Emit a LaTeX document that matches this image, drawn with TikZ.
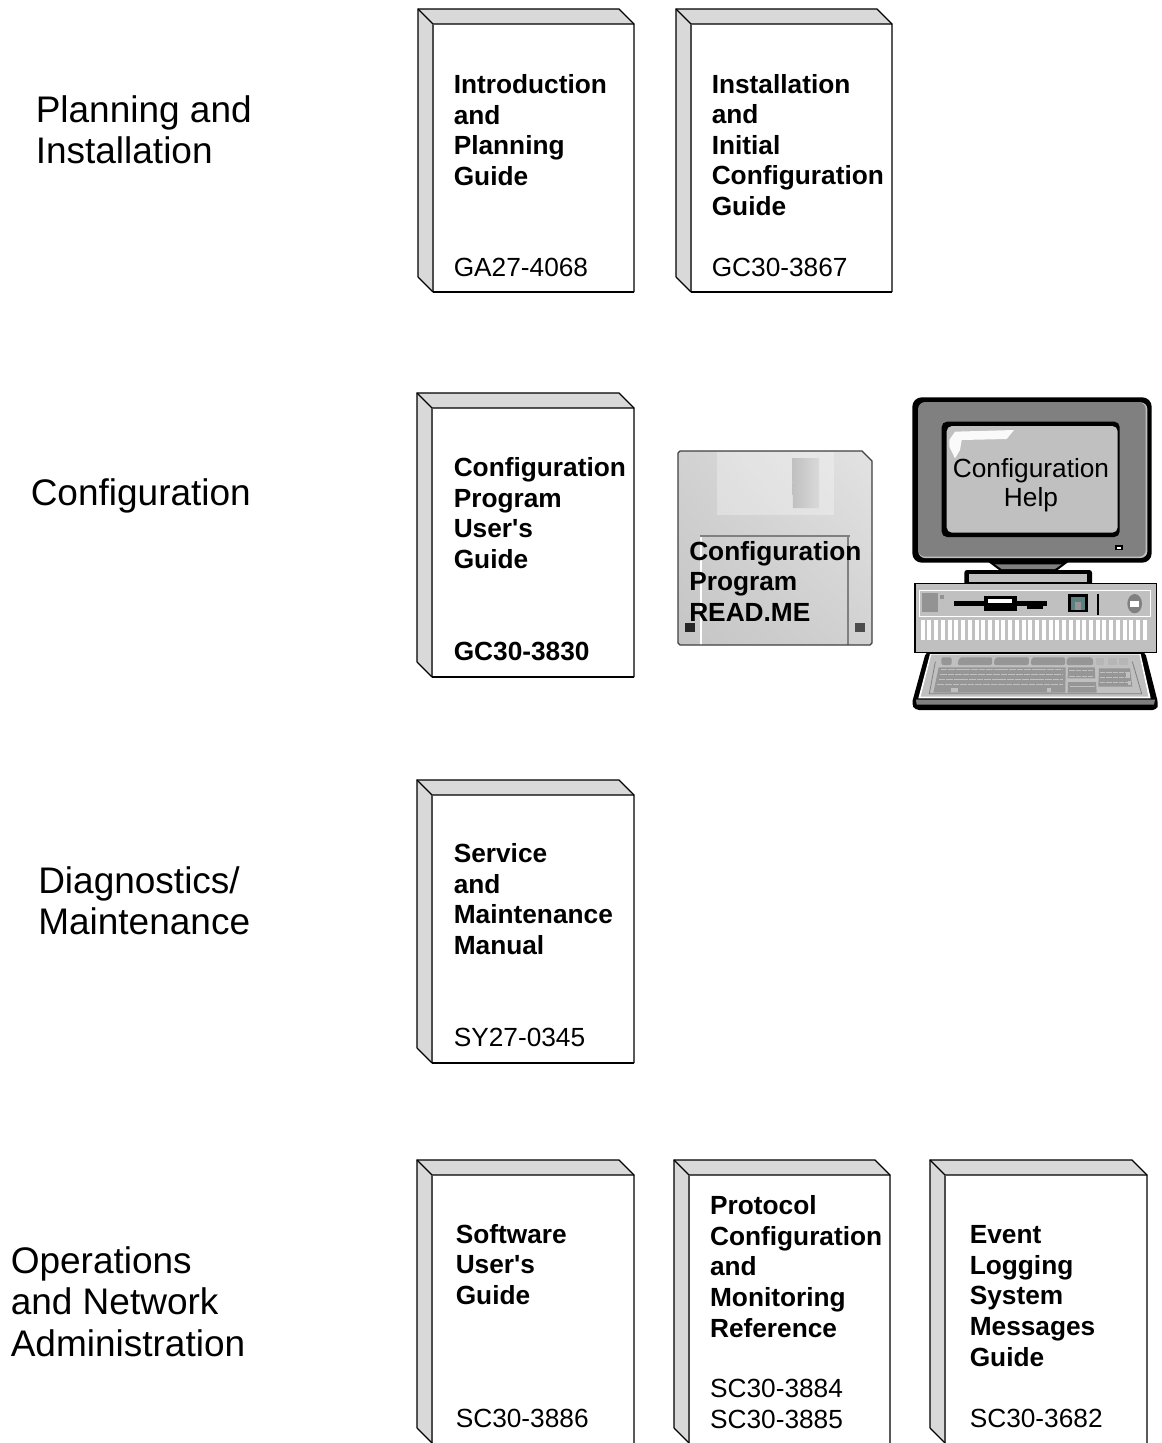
\documentclass[tikz,border=0pt]{standalone}
\usepackage{fontspec}
\usetikzlibrary{shadings}
\setmainfont{Liberation Sans}[Ligatures=TeXOff]
\definecolor{bookside}{HTML}{D9D9D9}
\definecolor{gA}{HTML}{808080}
\definecolor{gB}{HTML}{C0C0C0}
\definecolor{gC}{HTML}{969696}
\tikzset{
  bookline/.style={draw=black,line width=1pt,line join=miter},
  sidelabel/.style={anchor=base west,inner sep=0pt,align=left,font=\fontsize{27.75pt}{31pt}\selectfont},
  titletext/.style={anchor=base west,inner sep=0pt,align=left,font=\fontsize{19.7pt}{22.9pt}\selectfont\bfseries},
  codetext/.style={anchor=base west,inner sep=0pt,align=left,font=\fontsize{19.7pt}{22.9pt}\selectfont},
  helptext/.style={anchor=base,inner sep=0pt,align=center,font=\fontsize{19.7pt}{21.8pt}\selectfont},
}
% left, top, right, bottom
\newcommand{\bookbody}[4]{%
  \fill[white] (#1+15,#2+15) rectangle (#3,#4);
  \fill[bookside] (#1,#2) -- (#3-15,#2) -- (#3,#2+15) -- (#1+15,#2+15) -- (#1+15,#4) -- (#1,#4-15) -- cycle;
  \draw[bookline] (#1,#4-15) -- (#1,#2) -- (#3-15,#2) -- (#3,#2+15) -- (#3,#4);
  \draw[bookline] (#1,#2) -- (#1+15,#2+15) -- (#3,#2+15);
  \draw[bookline,draw=black!70] (#1+15,#2+15) -- (#1+15,#4);
  \draw[bookline] (#1,#4-15) -- (#1+15,#4);
}
\newcommand{\bookclosed}[4]{\bookbody{#1}{#2}{#3}{#4}\draw[bookline] (#1+15,#4) -- (#3,#4);}
\begin{document}
\begin{tikzpicture}[x=0.75pt,y=-0.75pt]
\useasboundingbox (0,0) rectangle (1161,1443);
\fill[white] (0,0) rectangle (1161,1443);

% left labels
\node[sidelabel] (lplan) at (35.5,163.5) {Planning and\\Installation};
\node[sidelabel] (lconf) at (30.5,505) {Configuration};
\node[sidelabel] (ldiag) at (38,934.5) {Diagnostics/\\Maintenance};
\node[sidelabel] (loper) at (10.5,1356) {Operations\\and Network\\Administration};

% books
\bookclosed{418}{9}{634}{292}
\bookclosed{676}{9}{892}{292}
\bookclosed{417}{393}{634}{677}
\bookclosed{417}{780}{634}{1063}
\bookbody{417}{1160}{634}{1443}
\bookbody{674}{1160}{890}{1443}
\bookbody{930}{1160}{1147}{1443}

\node[titletext] (t1) at (453.5,185.3) {Introduction\\and\\Planning\\Guide};
\node[codetext]  (c1) at (453.5,276) {GA27-4068};
\node[titletext] (t2) at (711.5,215.5) {Installation\\and\\Initial\\Configuration\\Guide};
\node[codetext]  (c2) at (711.5,276) {GC30-3867};
\node[titletext] (t3) at (453.5,568.3) {Configuration\\Program\\User's\\Guide};
\node[titletext] (c3) at (453.5,660) {GC30-3830};
\node[titletext] (t4) at (453.5,954.5) {Service\\and\\Maintenance\\Manual};
\node[codetext]  (c4) at (453.5,1046) {SY27-0345};
\node[titletext] (t5) at (455.5,1304.3) {Software\\User's\\Guide};
\node[codetext]  (c5) at (455.5,1427) {SC30-3886};
\node[titletext] (t6) at (709.8,1337) {Protocol\\Configuration\\and\\Monitoring\\Reference};
\node[codetext]  (c6) at (709.8,1428) {SC30-3884\\SC30-3885};
\node[titletext] (t7) at (969.5,1366) {Event\\Logging\\System\\Messages\\Guide};
\node[codetext]  (c7) at (969.5,1427) {SC30-3682};

% diskette
\shade[lower left=gB!92!white,upper right=gB!45!white,upper left=gB!72!white,lower right=gB!72!white]
  (678,453) -- (680,451) -- (862,451) -- (872,461) -- (872,643) -- (870,645) -- (680,645) -- (678,643) -- cycle;
\fill[white,opacity=.3] (717,452) rectangle (834,515);
\shade[left color=gB,right color=gB!60!white] (792,458) -- (819,458) -- (819,508) -- (793,508) -- cycle;
\draw[white,line width=1pt] (701,537) -- (701,645);
\draw[gA,line width=1.5pt] (700,536) -- (850,536);
\draw[gA,line width=1.5pt] (848,536) -- (848,645);
\fill[black!85] (685,623) rectangle (695,632);
\fill[black!70] (855,623) rectangle (865,632);
\draw[black!75,line width=1pt] (678,453) -- (680,451) -- (862,451) -- (872,461) -- (872,643) -- (870,645) -- (680,645) -- (678,643) -- cycle;
\node[titletext] (dtext) at (689,621.5) {Configuration\\Program\\READ.ME};

% monitor (coordinates in thirds of a pixel)
\begin{scope}[shift={(660,390)},x=0.25pt,y=-0.25pt]
  \fill[black,rounded corners=7pt] (757,22) rectangle (1475,518);
  \fill[gB,rounded corners=5pt] (775,37) rectangle (1462,504);
  \fill[gA,rounded corners=5pt] (775,37) rectangle (1457,500);
  \fill[black,rounded corners=4pt] (845,95) rectangle (1379,441);
  \fill[gB,rounded corners=4pt] (860,108) rectangle (1373,428);
  \fill[white!92!gB] (868,150) -- (885,125) -- (1062,120) -- (1040,147) -- (905,150) -- (900,180) -- (885,205) -- (868,170) -- cycle;
  \fill[black] (1366,465) rectangle (1389,481);
  \fill[white] (1372,470) rectangle (1384,476);
  % stand
  \fill[black] (985,516) -- (1225,516) -- (1190,542) -- (1020,542) -- cycle;
  \fill[gA] (1005,523) -- (1205,523) -- (1185,537) -- (1025,537) -- cycle;
  \fill[black,rounded corners=2pt] (913,540) rectangle (1296,586);
  \fill[gB] (928,552) rectangle (1282,575);
\end{scope}
\node[helptext] (mtext) at (1031,506.3) {Configuration\\Help};

% system unit and keyboard
\begin{scope}[shift={(900,550)},x=0.25pt,y=-0.25pt]
  \fill[black,rounded corners=3pt] (78,305) -- (735,305) -- (775,462) -- (770,480) -- (45,480) -- (35,462) -- cycle;
  \fill[white] (90,312) -- (722,312) -- (752,445) -- (55,445) -- cycle;
  \fill[gB] (94,314) -- (718,314) -- (745,440) -- (62,440) -- cycle;
  \fill[gA] (48,449) -- (765,449) -- (762,464) -- (50,464) -- cycle;
  % top row of keys
  \fill[gC,rounded corners=1.5pt] (124,322) rectangle (155,345);
  \fill[gC,rounded corners=1.5pt] (178,322) -- (277,322) -- (276,345) -- (172,345) -- cycle;
  \fill[gC,rounded corners=1.5pt] (285,322) -- (387,322) -- (386,345) -- (281,345) -- cycle;
  \fill[gC,rounded corners=1.5pt] (395,322) -- (495,322) -- (496,345) -- (392,345) -- cycle;
  \fill[gC,rounded corners=1.5pt] (501,322) -- (578,322) -- (580,345) -- (499,345) -- cycle;
  \fill[gC!70!white] (588,323) rectangle (612,345);
  \fill[gC!70!white] (623,323) rectangle (650,345);
  \fill[gC!70!white] (657,323) rectangle (685,345);
  % key blocks
  \fill[gC] (116,352) -- (497,352) -- (496,428) -- (100,428) -- cycle;
  \fill[gC] (504,352) -- (584,352) -- (586,385) -- (503,385) -- cycle;
  \fill[gC] (504,396) -- (588,396) -- (590,428) -- (503,428) -- cycle;
  \fill[gC] (597,355) -- (690,355) -- (697,410) -- (595,410) -- cycle;
  \draw[gA,line width=.6pt] (106,335) -- (88,431) -- (725,431) -- (697,335);
  % rows of key tops
  \foreach \yy/\xa/\xb in {359/122/490,374/120/490,389/116/490,404/112/490}
    \draw[gB,line width=.55pt,dash pattern=on 5pt off .7pt] (\xa,\yy) -- (\xb,\yy);
  \foreach \yy in {362,378}
    \draw[gB,line width=.55pt,dash pattern=on 4pt off .7pt] (508,\yy) -- (582,\yy);
  \foreach \yy in {367,382,397}
    \draw[gB,line width=.55pt,dash pattern=on 4pt off .7pt] (600,\yy) -- (690,\yy);
  \draw[gB,line width=.6pt] (510,408) -- (585,408);
  \fill[gB] (152,414) rectangle (173,426);
  \fill[gB] (441,414) rectangle (453,426);
  \fill[gB] (678,370) rectangle (690,384);
  \fill[gB] (684,392) rectangle (694,406);
  % system unit
  \fill[gB] (45,100) rectangle (770,307);
  \draw[black,line width=1.2pt] (45,100) rectangle (770,307);
  \draw[white,line width=.7pt] (58,120) rectangle (750,200);
  \fill[gC!85!gA] (67,130) rectangle (113,185);
  \fill[gC!85!gA] (120,135) rectangle (133,148);
  \fill[black] (162,152) rectangle (440,168);
  \fill[black] (253,138) rectangle (350,182);
  \fill[white] (263,147) rectangle (337,160);
  \fill[black] (380,168) rectangle (430,177);
  \fill[black] (503,132) rectangle (564,185);
  \fill[gA!70!teal] (512,142) rectangle (555,180);
  \fill[gC] (525,155) rectangle (543,180);
  \fill[black] (590,132) rectangle (597,195);
  \fill[gA] (704,161) ellipse [x radius=5.5pt,y radius=7.25pt];
  \fill[white] (690,153) rectangle (718,170);
  \foreach \i in {0,...,33}
    \fill[white] ({62+20.2*\i},210) rectangle ({74+20.2*\i},270);
\end{scope}
\end{tikzpicture}
\end{document}
